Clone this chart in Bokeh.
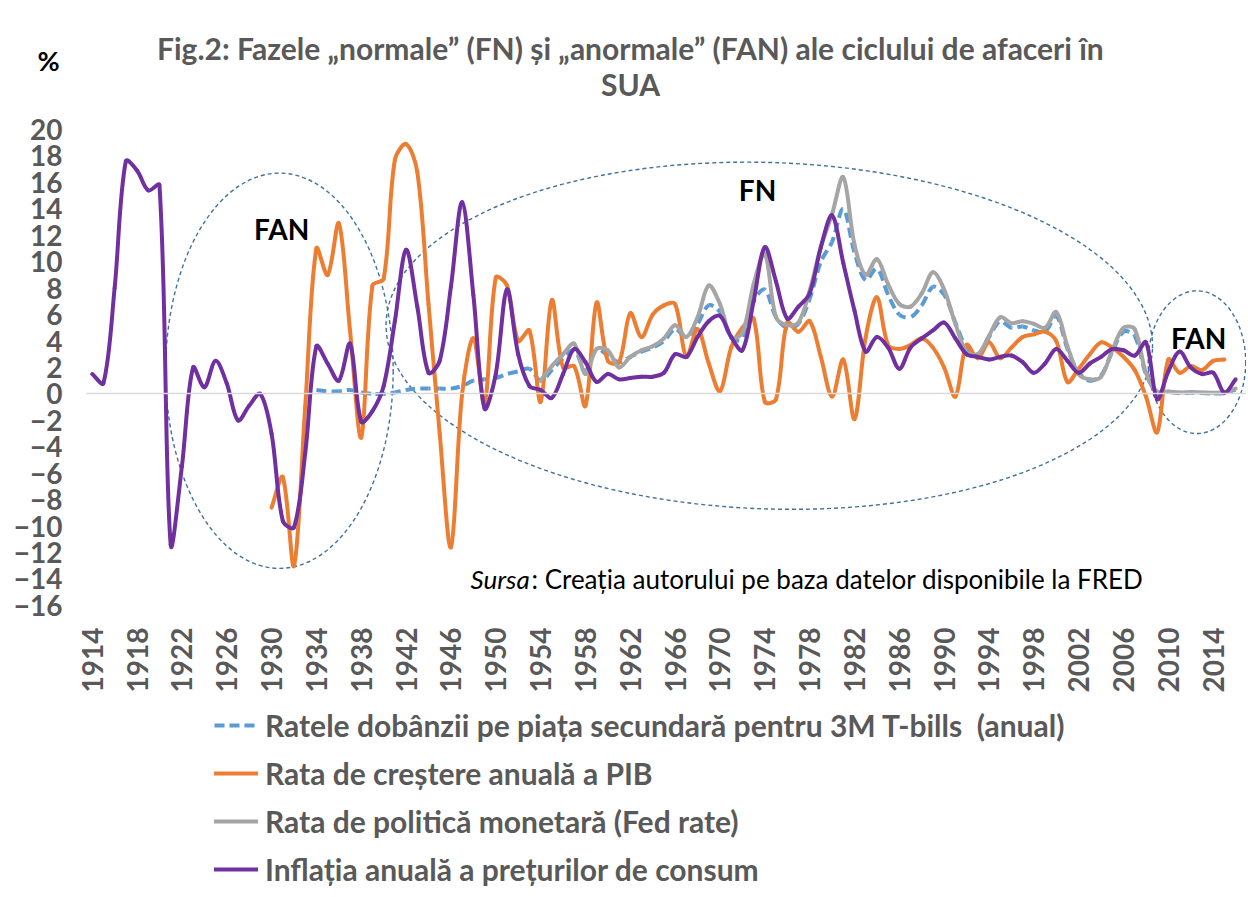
import math
from bokeh.plotting import figure
from bokeh.models import (ColumnDataSource, Range1d, FixedTicker, Label, Legend,
                          LegendItem, LinearAxis)
from bokeh.embed import file_html
from bokeh.resources import INLINE

# ---------------- data ----------------
years_cpi = list(range(1914, 2017))
cpi = [1.5, 0.8, 8.0, 17.6, 16.9, 15.4,
       15.8, -11.4, -5.5, 2.0, 0.5, 2.5, 0.8, -2.0, -0.9, 0.0,
       -3.0, -9.6, -10.1, -4.5, 3.6, 2.3, 1.0, 3.8, -2.1, -1.3,
       0.6, 5.5, 10.9, 6.6, 1.6, 2.5, 8.1, 14.5, 7.5, -1.1,
       1.5, 7.9, 3.0, 0.6, 0.3, -0.3, 1.5, 3.4, 2.4, 0.9,
       1.5, 1.1, 1.2, 1.3, 1.3, 1.6, 3.0, 2.8, 4.3, 5.5,
       5.9, 4.3, 3.3, 7.0, 11.1, 8.5, 5.7, 6.6, 7.6, 11.1,
       13.5, 9.9, 6.3, 3.2, 4.3, 3.5, 1.9, 3.5, 4.2, 4.8,
       5.4, 4.2, 3.0, 2.8, 2.6, 2.8, 2.9, 2.4, 1.6, 2.3,
       3.4, 2.5, 1.6, 2.3, 2.8, 3.4, 3.3, 2.9, 3.9, -0.4,
       1.7, 3.2, 2.0, 1.5, 1.6, 0.1, 1.1]

years_gdp = list(range(1930, 2016))
gdp = [-8.6, -6.3, -13.0, -1.0, 11.0, 9.0, 12.9, 4.8, -3.3, 8.2,
       8.7, 17.7, 18.9, 16.8, 6.8, -3.0, -11.6, 0.0, 4.2, -0.8,
       8.8, 8.2, 4.0, 4.8, -0.6, 7.1, 2.0, 2.1, -0.9, 6.9,
       2.5, 2.4, 6.1, 4.3, 6.0, 6.7, 6.8, 2.8, 4.9, 2.3,
       0.2, 3.5, 5.0, 5.7, -0.6, -0.4, 5.4, 4.7, 5.5, 2.8,
       -0.2, 2.6, -1.9, 4.3, 7.3, 3.7, 3.4, 3.7, 4.2, 3.5,
       2.0, -0.2, 3.7, 2.7, 3.9, 2.7, 3.5, 4.3, 4.5, 4.7,
       4.0, 0.9, 1.9, 3.0, 3.9, 3.5, 2.8, 1.8, -0.2, -2.9,
       2.6, 1.6, 2.1, 1.8, 2.5, 2.6]

years_fed = list(range(1954, 2017))
fed = [1.0, 2.1, 3.0, 3.8, 1.5, 3.4,
       3.3, 2.0, 2.8, 3.3, 3.6, 4.2, 5.2, 4.3, 5.8, 8.2,
       6.8, 4.3, 4.6, 8.3, 10.6, 5.8, 5.2, 5.4, 7.8, 11.1,
       13.6, 16.4, 11.3, 9.0, 10.2, 8.3, 6.8, 6.6, 7.6, 9.2,
       7.9, 5.3, 3.2, 3.0, 4.4, 5.8, 5.35, 5.5, 5.3, 5.0,
       6.2, 3.6, 1.5, 1.1, 1.3, 3.3, 5.0, 4.9, 1.6, 0.15,
       0.18, 0.1, 0.14, 0.11, 0.09, 0.13, 0.4]

years_tbill = list(range(1934, 2017))
tbill = [0.3, 0.2, 0.2, 0.3, 0.1, 0.0,
         0.0, 0.1, 0.3, 0.4, 0.4, 0.4, 0.4, 0.6, 1.0, 1.1,
         1.2, 1.5, 1.7, 1.9, 1.0, 1.8, 2.7, 3.3, 1.8, 3.4,
         2.9, 2.4, 2.8, 3.2, 3.5, 4.0, 4.9, 4.3, 5.3, 6.7,
         6.2, 4.3, 4.1, 7.0, 7.9, 5.8, 5.0, 5.3, 7.2, 10.0,
         11.5, 14.0, 10.7, 8.6, 9.5, 7.5, 6.0, 5.8, 6.7, 8.1,
         7.5, 5.4, 3.5, 3.0, 4.3, 5.5, 5.0, 5.1, 4.8, 4.7,
         5.9, 3.4, 1.6, 1.0, 1.4, 3.2, 4.7, 4.4, 1.5, 0.15,
         0.14, 0.05, 0.09, 0.06, 0.03, 0.05, 0.32]

series_names = ["Ratele dobânzii pe piața secundară pentru 3M T-bills  (anual)",
                "Rata de creștere anuală a PIB",
                "Rata de politică monetară (Fed rate)",
                "Inflația anuală a prețurilor de consum"]
x_ticks = list(range(1914, 2015, 4))
y_ticks = list(range(-16, 21, 2))
title_lines = ["Fig.2: Fazele „normale” (FN) și „anormale” (FAN) ale ciclului de afaceri în",
               "SUA"]

FONT = "Lato"
GREY_TXT = "#595959"

# ---------------- geometry (canvas pixels) ----------------
W, H = 1246, 895
PX_YR = 11.21            # px per year
PX_UNIT = 13.22          # px per percentage point
X0 = 1914 - 91.7 / PX_YR             # value at canvas left edge
Y_TOP = 20 + 129 / PX_UNIT           # value at canvas top edge
PLOT_LEFT = 1914 - (91.7 - 86) / PX_YR   # left edge of the plotting area


def px_to_x(px):
    return X0 + px / PX_YR


def px_to_y(py):
    return Y_TOP - py / PX_UNIT


def smooth_source(xs, ys, period=None):
    """Excel-like smoothed line: cubic Bezier segments through the data points,
    tangents scaled by the (screen) lengths of the neighbouring segments."""
    n = len(xs)
    px = [x * PX_YR for x in xs]
    py = [y * PX_UNIT for y in ys]

    def dist(i, j):
        return math.hypot(px[j] - px[i], py[j] - py[i])

    k = 1.0 / 3.0
    out_cp, in_cp = [], []
    for i in range(n):
        a, c = max(i - 1, 0), min(i + 1, n - 1)
        tx, ty = px[c] - px[a], py[c] - py[a]
        dp, dn = dist(a, i), dist(i, c)
        s = dp + dn
        fo = dn / s if s else 0.0
        fi = dp / s if s else 0.0
        out_cp.append((px[i] + tx * fo * k, py[i] + ty * fo * k))
        in_cp.append((px[i] - tx * fi * k, py[i] - ty * fi * k))
    d = dict(x0=[], y0=[], x1=[], y1=[], cx0=[], cy0=[], cx1=[], cy1=[], off=[])
    cum = 0.0
    for i in range(n - 1):
        d["x0"].append(xs[i]); d["y0"].append(ys[i])
        d["x1"].append(xs[i + 1]); d["y1"].append(ys[i + 1])
        d["cx0"].append(out_cp[i][0] / PX_YR); d["cy0"].append(out_cp[i][1] / PX_UNIT)
        d["cx1"].append(in_cp[i + 1][0] / PX_YR); d["cy1"].append(in_cp[i + 1][1] / PX_UNIT)
        d["off"].append(int(round(cum % period)) if period else 0)
        cum += dist(i, i + 1)
    return ColumnDataSource(d)


p = figure(width=W, height=H, output_backend="svg", toolbar_location=None,
           x_range=Range1d(X0, X0 + W / PX_YR), y_range=Range1d(Y_TOP - H / PX_UNIT, Y_TOP),
           x_axis_location=None, y_axis_location=None,
           min_border=0)
p.outline_line_color = None
p.xgrid.visible = False
p.ygrid.visible = False


def style_axis(ax):
    ax.major_tick_line_color = None
    ax.minor_tick_line_color = None
    ax.major_tick_out = 0
    ax.major_tick_in = 0
    ax.major_label_text_font = FONT
    ax.major_label_text_font_style = "bold"
    ax.major_label_text_font_size = "28px"
    ax.major_label_text_color = GREY_TXT


# category (year) axis drawn at the bottom of the plotting area
xax = LinearAxis(ticker=FixedTicker(ticks=x_ticks), fixed_location=-16,
                 axis_line_color=None, major_label_orientation=math.pi / 2,
                 major_label_standoff=22)
style_axis(xax)
p.add_layout(xax, "below")

# the horizontal zero line (category axis line)
zax = LinearAxis(ticker=FixedTicker(ticks=[]), fixed_location=0,
                 bounds=(PLOT_LEFT, X0 + W / PX_YR),
                 axis_line_color="#D9D9D9", axis_line_width=1.5)
style_axis(zax)
p.add_layout(zax, "below")

# value axis at the left edge of the plotting area
yax = LinearAxis(ticker=FixedTicker(ticks=y_ticks), fixed_location=PLOT_LEFT,
                 axis_line_color=None, major_label_standoff=24)
style_axis(yax)
p.add_layout(yax, "left")

# ellipses (phase markers)
ell = dict(fill_color=None, line_color="#41719C", line_width=1.4, line_dash="4 3")
p.ellipse(x=[1930.7], y=[1.75], width=[20.3], height=[29.9], **ell)
p.ellipse(x=[1974.4], y=[4.4], width=[68.4], height=[26.2], angle=[-0.034], **ell)
p.ellipse(x=[2012.55], y=[2.4], width=[8.7], height=[10.8], **ell)

# series
bz = dict(x0="x0", y0="y0", x1="x1", y1="y1", cx0="cx0", cy0="cy0", cx1="cx1", cy1="cy1")
r_tb = p.bezier(**bz, source=smooth_source(years_tbill, tbill, period=15), line_color="#5B9BD5",
                line_width=4, line_dash="10 5", line_dash_offset="off", line_cap="butt")
r_gdp = p.bezier(**bz, source=smooth_source(years_gdp, gdp), line_color="#ED7D31",
                 line_width=4, line_cap="round")
r_fed = p.bezier(**bz, source=smooth_source(years_fed, fed), line_color="#A5A5A5",
                 line_width=4, line_cap="round")
r_cpi = p.bezier(**bz, source=smooth_source(years_cpi, cpi), line_color="#7030A0",
                 line_width=4, line_cap="round")

# texts
lab = dict(text_font=FONT, text_align="center", text_baseline="middle")
p.add_layout(Label(x=px_to_x(630), y=px_to_y(47), text=title_lines[0], text_font_size="30px",
                   text_font_style="bold", text_color=GREY_TXT, **lab))
p.add_layout(Label(x=px_to_x(630), y=px_to_y(83), text=title_lines[1], text_font_size="30px",
                   text_font_style="bold", text_color=GREY_TXT, **lab))
p.add_layout(Label(x=px_to_x(48), y=px_to_y(60), text="%", text_font_size="27px",
                   text_font_style="bold", text_color="black", **lab))
p.add_layout(Label(x=1930.9, y=12.5, text="FAN", text_font_size="28px",
                   text_font_style="bold", text_color="black", **lab))
p.add_layout(Label(x=1973.35, y=15.4, text="FN", text_font_size="28px",
                   text_font_style="bold", text_color="black", **lab))
p.add_layout(Label(x=2012.7, y=4.2, text="FAN", text_font_size="28px",
                   text_font_style="bold", text_color="black", **lab))
p.add_layout(Label(x=px_to_x(470), y=px_to_y(578), text="Sursa", text_font=FONT,
                   text_font_size="26px", text_font_style="italic", text_color="black",
                   text_align="left", text_baseline="middle"))
p.add_layout(Label(x=px_to_x(531), y=px_to_y(578),
                   text=": Creația autorului pe baza datelor disponibile la FRED",
                   text_font=FONT, text_font_size="26px", text_color="black",
                   text_align="left", text_baseline="middle"))

legend = Legend(items=[LegendItem(label=series_names[0], renderers=[r_tb]),
                       LegendItem(label=series_names[1], renderers=[r_gdp]),
                       LegendItem(label=series_names[2], renderers=[r_fed]),
                       LegendItem(label=series_names[3], renderers=[r_cpi])],
                location=(214, 8), orientation="vertical",
                label_text_font=FONT, label_text_font_style="bold",
                label_text_font_size="30px", label_text_color=GREY_TXT,
                glyph_width=44, glyph_height=36, label_height=36, spacing=12,
                label_standoff=7, padding=0, margin=0,
                border_line_color=None, background_fill_alpha=0)
p.add_layout(legend, "center")

open("out.html", "w").write(file_html(p, INLINE))
